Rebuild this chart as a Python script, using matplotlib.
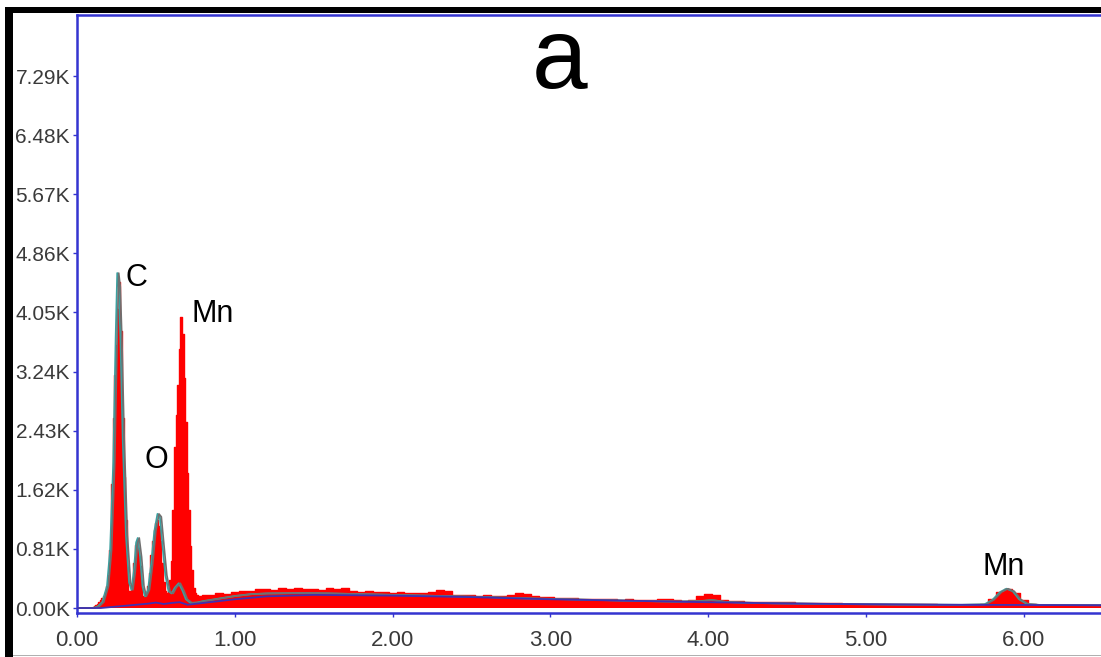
import numpy as np
import matplotlib.pyplot as plt
from matplotlib.patches import Rectangle
from matplotlib.ticker import FixedLocator
import matplotlib.transforms as mtransforms

plt.rcParams['font.family'] = ['Liberation Sans', 'DejaVu Sans']

# measured spectrum (red), energy in keV, counts
peak_e = [0.10, 0.11, 0.12, 0.13, 0.14, 0.15, 0.16, 0.17, 0.18, 0.19,
          0.20, 0.21, 0.22, 0.23, 0.24, 0.25, 0.26, 0.27, 0.28, 0.29,
          0.30, 0.31, 0.32, 0.33, 0.34, 0.35, 0.36, 0.37, 0.38, 0.39,
          0.40, 0.41, 0.42, 0.43, 0.44, 0.45, 0.46, 0.47, 0.48, 0.49,
          0.50, 0.51, 0.52, 0.53, 0.54, 0.55, 0.56, 0.57, 0.58, 0.59,
          0.60, 0.61, 0.62, 0.63, 0.64, 0.65, 0.66, 0.67, 0.68, 0.69,
          0.70, 0.71, 0.72, 0.73, 0.74, 0.75, 0.76, 0.77, 0.78, 0.79, 0.80]
peak_c = [15, 25, 40, 55, 80, 110, 140, 170, 220, 300,
          450, 800, 1700, 2600, 3200, 3600, 4100, 4470, 3800, 2600,
          1800, 1200, 450, 240, 210, 320, 620, 860, 890, 820,
          580, 270, 170, 150, 190, 300, 480, 720, 920, 1070,
          1160, 1200, 1120, 920, 620, 360, 240, 210, 230, 380,
          650, 1350, 2200, 2650, 3050, 3550, 3990, 3750, 3150, 2550,
          1850, 1350, 850, 520, 270, 200, 180, 170, 165, 170, 175]
cont_e = [0.85, 0.90, 0.95, 1.00, 1.05, 1.10, 1.15, 1.20, 1.25, 1.30,
          1.35, 1.40, 1.45, 1.50, 1.55, 1.60, 1.65, 1.70, 1.75, 1.80,
          1.85, 1.90, 1.95, 2.00, 2.05, 2.10, 2.15, 2.20, 2.25, 2.30,
          2.35, 2.40, 2.45, 2.50, 2.55, 2.60, 2.65, 2.70, 2.75, 2.80,
          2.85, 2.90, 2.95, 3.00, 3.05, 3.10, 3.15, 3.20, 3.25, 3.30,
          3.35, 3.40, 3.45, 3.50, 3.55, 3.60, 3.65, 3.70, 3.75, 3.80,
          3.85, 3.90, 3.95, 4.00, 4.05, 4.10, 4.15, 4.20, 4.25, 4.30,
          4.40, 4.50, 4.60, 4.70, 4.80, 4.90, 5.00, 5.10, 5.20, 5.30,
          5.40, 5.50, 5.60, 5.70, 5.75, 5.80, 5.85, 5.90, 5.95, 6.00,
          6.05, 6.10, 6.20, 6.30, 6.40, 6.50]
cont_c = [185, 200, 195, 225, 240, 235, 255, 265, 250, 280,
          260, 270, 255, 265, 250, 270, 255, 275, 240, 225,
          230, 215, 225, 210, 220, 205, 210, 200, 215, 245,
          230, 185, 175, 180, 170, 175, 165, 170, 185, 200,
          190, 160, 150, 145, 140, 135, 140, 130, 125, 130,
          120, 118, 115, 120, 112, 115, 110, 130, 120, 105,
          100, 110, 170, 190, 180, 110, 95, 90, 88, 85,
          82, 76, 72, 68, 64, 61, 58, 56, 54, 52,
          50, 48, 47, 47, 60, 130, 220, 260, 210, 110,
          55, 45, 43, 42, 41, 40]

# fitted spectrum (teal / grey)
fit_e = [0.00, 0.10, 0.13, 0.16, 0.19, 0.21, 0.23, 0.245, 0.255, 0.265,
         0.275, 0.29, 0.31, 0.33, 0.345, 0.36, 0.375, 0.385, 0.40, 0.415,
         0.43, 0.45, 0.47, 0.49, 0.51, 0.525, 0.54, 0.56, 0.58, 0.60,
         0.62, 0.645, 0.67, 0.69, 0.72, 0.76, 0.80, 0.90, 1.00, 1.10,
         1.20, 1.40, 1.60, 1.80, 2.00, 2.20, 2.40, 2.60, 2.80, 3.00,
         3.20, 3.40, 3.60, 3.80, 3.95, 4.02, 4.10, 4.20, 4.40, 4.80,
         5.20, 5.60, 5.75, 5.80, 5.85, 5.89, 5.93, 5.97, 6.02, 6.10, 6.50]
fit_c = [0, 0, 20, 80, 300, 800, 2000, 3700, 4590, 4400,
         3700, 2300, 1000, 350, 250, 500, 900, 960, 700, 300,
         160, 250, 600, 1050, 1290, 1250, 900, 450, 230, 200,
         280, 340, 230, 120, 70, 75, 95, 130, 165, 190,
         200, 205, 200, 190, 180, 170, 160, 150, 135, 125,
         115, 105, 95, 88, 95, 110, 85, 75, 65, 55,
         48, 44, 50, 110, 220, 265, 230, 120, 55, 42, 38]

# background (purple)
bkg_e = [0.00, 0.15, 0.25, 0.35, 0.45, 0.50, 0.55, 0.60, 0.65, 0.70,
         0.80, 1.00, 1.20, 1.50, 2.00, 2.50, 3.00, 3.50, 4.00, 4.50,
         5.00, 5.50, 6.00, 6.50]
bkg_c = [0, 0, 20, 40, 60, 75, 55, 70, 80, 45,
         70, 120, 160, 180, 170, 150, 120, 100, 80, 62,
         52, 45, 42, 38]

yticks = [0, 810, 1620, 2430, 3240, 4050, 4860, 5670, 6480, 7290]
ylabels = ['0.00K', '0.81K', '1.62K', '2.43K', '3.24K', '4.05K', '4.86K', '5.67K', '6.48K', '7.29K']
xticks = [0, 1, 2, 3, 4, 5, 6]
xlabels = ['0.00', '1.00', '2.00', '3.00', '4.00', '5.00', '6.00']

energy = np.array(peak_e + cont_e)
counts = np.array(peak_c + cont_c)

fig = plt.figure(figsize=(11.01, 6.57), dpi=100)
ax = fig.add_axes([77/1101, 44/657, 1 - 77/1101, 598/657])

ax.fill_between(energy, counts, step='mid', color='#ff0000', lw=0, zorder=2)
ax.step(energy, counts, where='mid', color='#ff0000', lw=1.0, zorder=2)
ax.plot(fit_e, fit_c, color='#3aa0a0', lw=1.3, zorder=3)
shift = mtransforms.offset_copy(ax.transData, fig=fig, x=1.5, y=0, units='dots')
ax.plot(fit_e, fit_c, color='#707070', lw=1.2, zorder=4, transform=shift)
ax.plot(bkg_e, bkg_c, color='#4030b0', lw=1.3, zorder=5)

ax.set_xlim(0, 6.489)
ax.set_ylim(-68, 8126)
ax.xaxis.set_major_locator(FixedLocator(xticks))
ax.set_xticklabels(xlabels)
ax.yaxis.set_major_locator(FixedLocator(yticks))
ax.set_yticklabels(ylabels)
ax.tick_params(axis='both', colors='#3434d0', length=3, width=1, labelcolor='#3a3a3a')
ax.tick_params(axis='x', pad=9, labelsize=16)
ax.tick_params(axis='y', pad=2, labelsize=15)

for s in ['left', 'bottom', 'top']:
    ax.spines[s].set_color('#3434d0')
    ax.spines[s].set_linewidth(1.8)
ax.spines['right'].set_visible(False)

ax.text(3.055, 7124, 'a', fontsize=72, ha='center', va='baseline')
ax.text(0.374, 4521, 'C', fontsize=22, ha='center', va='center')
ax.text(0.50, 2028, 'O', fontsize=22, ha='center', va='center')
ax.text(0.862, 4028, 'Mn', fontsize=22, ha='center', va='center')
ax.text(5.874, 562, 'Mn', fontsize=22, ha='center', va='center')

# black frame of the panel
fig.add_artist(Rectangle((5/1101, 0), 8/1101, 650/657, transform=fig.transFigure, color='black', lw=0))
fig.add_artist(Rectangle((5/1101, 644/657), 1, 6/657, transform=fig.transFigure, color='black', lw=0))
fig.add_artist(Rectangle((13/1101, 1/657), 1, 1.5/657, transform=fig.transFigure, color='#b0b0b0', lw=0))

fig.savefig('out.png', dpi=100)
